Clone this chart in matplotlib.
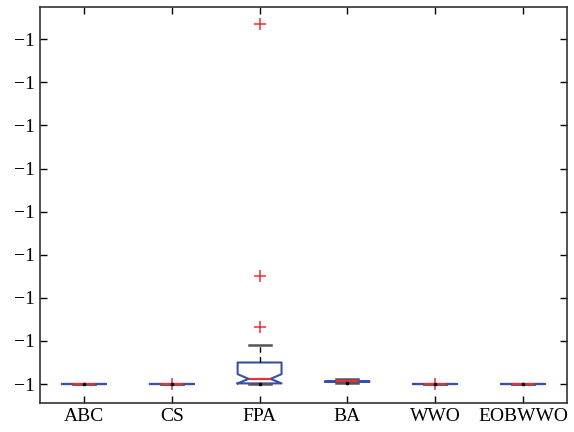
import matplotlib
matplotlib.use("Agg")
import matplotlib.pyplot as plt
from matplotlib.ticker import FuncFormatter, FixedLocator

# Objective values per algorithm (all converge to about -1)
methods = ["ABC", "CS", "FPA", "BA", "WWO", "EOBWWO"]
whislo = [-1.0, -1.0, -1.0, -0.99999998, -1.0, -1.0]
q1 = [-1.0, -1.0, -0.999999985, -0.99999995, -1.0, -1.0]
medians = [-1.0, -1.0, -0.99999988, -0.99999994, -1.0, -1.0]
q3 = [-1.0, -1.0, -0.9999995, -0.99999993, -1.0, -1.0]
whishi = [-1.0, -1.0, -0.99999909, -0.99999988, -1.0, -1.0]
ci_lo = [-1.0, -1.0, -0.999999985, -0.99999995, -1.0, -1.0]
ci_hi = [-1.0, -1.0, -0.99999977, -0.99999993, -1.0, -1.0]
fliers = [[], [-1.0], [-0.99999867, -0.99999749, -0.99999165], [], [-1.0], []]
yticks = [-1.0 + k * 1e-6 for k in range(9)]

plt.rcParams["font.family"] = ["Liberation Serif", "DejaVu Serif"]

fig = plt.figure(figsize=(5.74, 4.32), dpi=100)
ax = fig.add_axes([40 / 574, 1 - 403 / 432, 527 / 574, 396 / 432])

stats = []
for i, name in enumerate(methods):
    stats.append(dict(label=name, med=medians[i], q1=q1[i], q3=q3[i],
                      whislo=whislo[i], whishi=whishi[i],
                      cilo=ci_lo[i], cihi=ci_hi[i], fliers=fliers[i]))

blue = "#3a4fa6"
red = "#e8303a"
pos = list(range(1, len(methods) + 1))
ax.bxp(stats, positions=pos, widths=0.5, shownotches=True,
       boxprops=dict(color=blue, linewidth=1.5),
       medianprops=dict(color=red, linewidth=1.6),
       whiskerprops=dict(color="black", linewidth=1.0, linestyle=(0, (4, 3))),
       capprops=dict(color="#555555", linewidth=1.8),
       flierprops=dict(marker="+", markeredgecolor=red, markersize=8,
                       markeredgewidth=1.1, linestyle="none"),
       capwidths=0.25)
ax.plot(pos, whislo, linestyle="none", marker="o", color="black",
        markersize=1.6, zorder=3)

ax.set_xlim(0.5, 6.5)
ax.set_ylim(-1.0 - 0.44e-6, -1.0 + 8.75e-6)
ax.yaxis.set_major_locator(FixedLocator(yticks))
ax.yaxis.set_major_formatter(FuncFormatter(lambda v, p: f"{v:.0f}".replace("-", "\u2212")))
ax.tick_params(direction="in", top=True, right=True, length=5, width=1.0,
               labelsize=14, colors="black")
for s in ax.spines.values():
    s.set_linewidth(1.2)
    s.set_color("#333333")

fig.savefig("out.png", dpi=100)
